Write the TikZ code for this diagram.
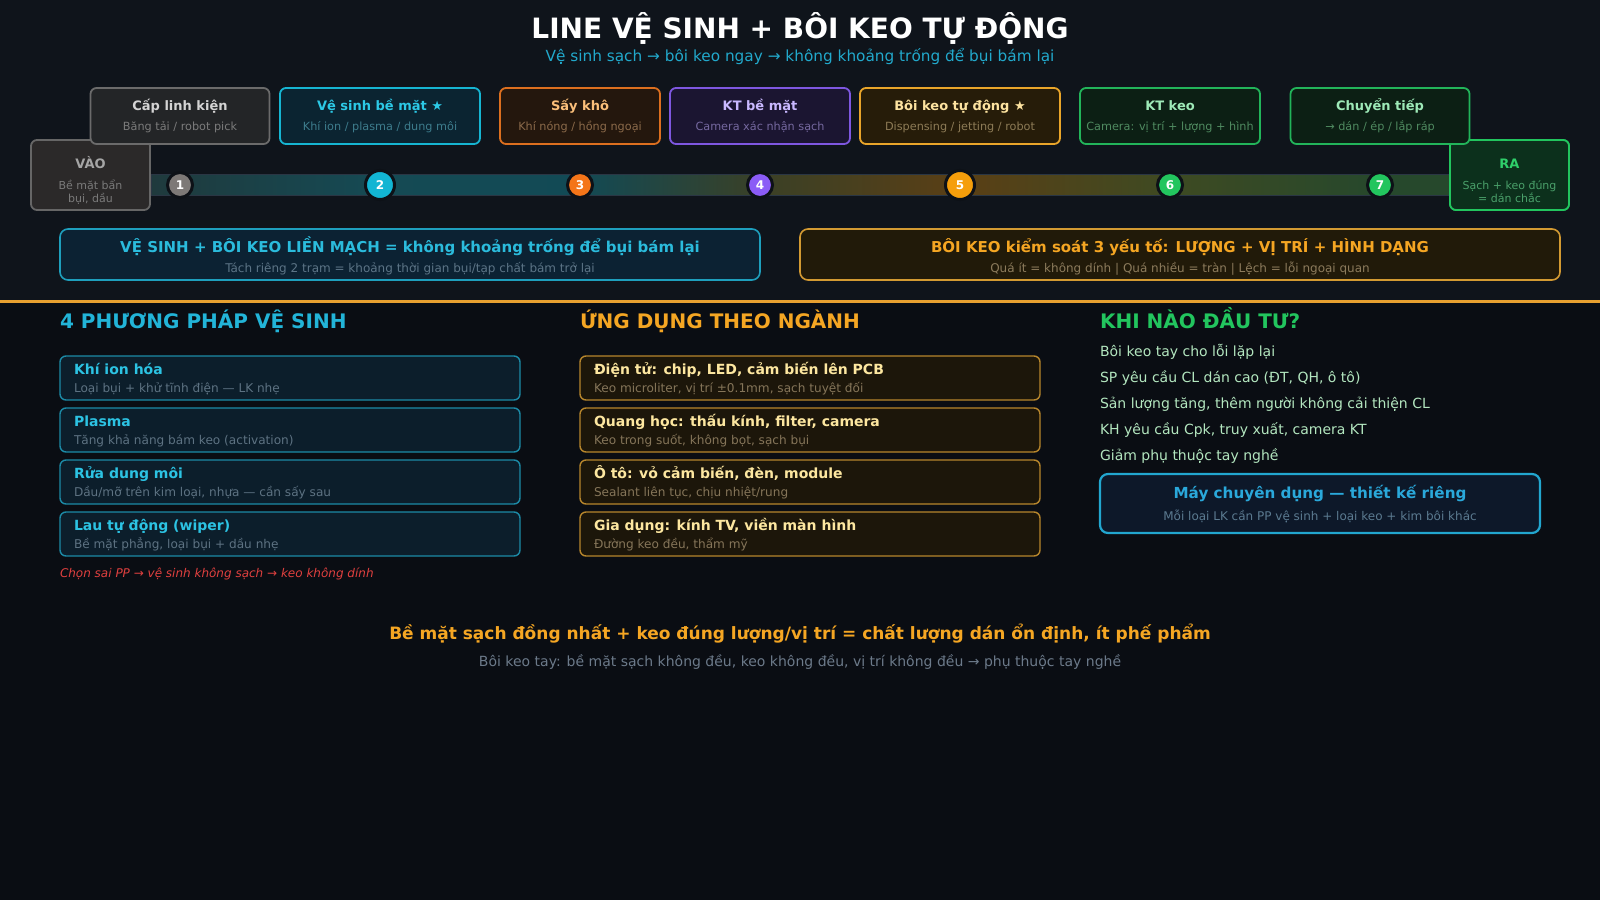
\documentclass[tikz,border=0pt]{standalone}
\usepackage{fontspec}
\setmainfont{DejaVu Sans}
\usetikzlibrary{calc}
\definecolor{bgtop}{HTML}{0F141B}
\definecolor{bgbot}{HTML}{0A0D13}
\definecolor{sep}{HTML}{E8A030}
\definecolor{ring}{HTML}{0D1117}
\definecolor{trackedge}{HTML}{2A3644}
\definecolor{tk0}{HTML}{1F3A3D}
\definecolor{tk2}{HTML}{154A54}
\definecolor{tk3}{HTML}{124A55}
\definecolor{tk4}{HTML}{3A4026}
\definecolor{tk5}{HTML}{5A3F15}
\definecolor{tk6}{HTML}{3E4A22}
\definecolor{tk7}{HTML}{26482C}
\pgfdeclarehorizontalshading{trackshade}{100bp}{color(0bp)=(tk0); color(25bp)=(tk0); color(33.8bp)=(tk2); color(41.5bp)=(tk3); color(48.5bp)=(tk4); color(56.2bp)=(tk5); color(64.2bp)=(tk6); color(72.3bp)=(tk7); color(75bp)=(tk7); color(100bp)=(tk7)}
% stage colours
\definecolor{aF}{HTML}{232527}\definecolor{aD}{HTML}{6B6B6B}\definecolor{aT}{HTML}{D4D4D4}\definecolor{aS}{HTML}{7B7B7B}
\definecolor{bF}{HTML}{0B2431}\definecolor{bD}{HTML}{16B5D2}\definecolor{bT}{HTML}{2CC9E6}\definecolor{bS}{HTML}{3D7C8C}
\definecolor{cF}{HTML}{24170D}\definecolor{cD}{HTML}{DC6F1F}\definecolor{cT}{HTML}{FBBF7A}\definecolor{cS}{HTML}{8B6A4A}
\definecolor{dF}{HTML}{1B1531}\definecolor{dD}{HTML}{7E57E0}\definecolor{dT}{HTML}{C9B8FF}\definecolor{dS}{HTML}{75689F}
\definecolor{eF}{HTML}{261C09}\definecolor{eD}{HTML}{E9A52A}\definecolor{eT}{HTML}{FDE3A0}\definecolor{eS}{HTML}{8D7B56}
\definecolor{gF}{HTML}{0C1F14}\definecolor{gD}{HTML}{22B45A}\definecolor{gT}{HTML}{9EEAB8}\definecolor{gS}{HTML}{4F8A60}
\definecolor{vF}{HTML}{2B2929}\definecolor{vD}{HTML}{666666}\definecolor{vT}{HTML}{A5A5A5}\definecolor{vS}{HTML}{7A7A7A}
\definecolor{rF}{HTML}{0C301C}\definecolor{rD}{HTML}{22C55E}\definecolor{rT}{HTML}{2FCF6A}\definecolor{rS}{HTML}{4AA06A}
\definecolor{n1}{HTML}{7D7977}\definecolor{n2}{HTML}{12B5D3}\definecolor{n3}{HTML}{F47519}\definecolor{n4}{HTML}{8B5CF6}
\definecolor{n5}{HTML}{F59E0B}\definecolor{n6}{HTML}{22C55E}
% banners and columns
\definecolor{lbF}{HTML}{0C2233}\definecolor{lbD}{HTML}{1E9FBD}\definecolor{lbT}{HTML}{2BBBDC}\definecolor{lbS}{HTML}{5C7486}
\definecolor{rbF}{HTML}{211A09}\definecolor{rbD}{HTML}{D39A32}\definecolor{rbT}{HTML}{F5A623}\definecolor{rbS}{HTML}{8C7B5C}
\definecolor{cyanH}{HTML}{22B4D8}\definecolor{amberH}{HTML}{F5A623}\definecolor{greenH}{HTML}{22C55E}
\definecolor{k1F}{HTML}{0C1E2B}\definecolor{k1D}{HTML}{1C8AA6}\definecolor{k1T}{HTML}{2CC3E3}\definecolor{k1S}{HTML}{5D7282}
\definecolor{k2F}{HTML}{1C160A}\definecolor{k2D}{HTML}{B7862C}\definecolor{k2T}{HTML}{FDE7A0}\definecolor{k2S}{HTML}{857559}
\definecolor{k3I}{HTML}{B3E6BF}
\definecolor{mbF}{HTML}{0D1829}\definecolor{mbD}{HTML}{22A6CF}\definecolor{mbT}{HTML}{2AA8DA}\definecolor{mbS}{HTML}{5B7A90}
\definecolor{redN}{HTML}{E0403F}
\definecolor{subT}{HTML}{22A9CC}
\definecolor{footS}{HTML}{6C7A8A}
\newcommand\fs[1]{\fontsize{#1}{#1}\selectfont}
\newcommand\stage[9]{%
  \node[stagebox, minimum width=#3pt, fill=#4, draw=#5] (#1) at (#2,116) {};
  \node[anchor=base, text=#6, font=\bfseries\fs{13}] (#1-t) at (#2,110.5) {#8};
  \node[anchor=base, text=#7, font=\fs{11.25}] (#1-s) at (#2,130) {#9};
}
\newcommand\colbox[6]{%
  \node[#4box, anchor=north west] (#1) at (#2,#3) {};
  \node[#4title, anchor=base west] (#1-t) at (#2+14,#3+18) {#5};
  \node[#4sub, anchor=base west] (#1-s) at (#2+14,#3+36) {#6};
}
\tikzset{
  every node/.style={inner sep=0pt, outer sep=0pt},
  stagebox/.style={rectangle, rounded corners=6pt, line width=1.8pt, minimum height=56pt},
  endbox/.style={rectangle, rounded corners=6pt, line width=1.8pt, minimum width=119pt, minimum height=70pt},
  num/.style={circle, line width=3pt, draw=ring, text=white, font=\bfseries\fs{12}, minimum size=25pt},
  bignum/.style={num, minimum size=29pt},
  banner/.style={rectangle, rounded corners=8pt, line width=1.6pt, minimum height=51pt},
  k1box/.style={rectangle, rounded corners=6pt, line width=1.4pt, minimum width=460pt, minimum height=44pt, fill=k1F, draw=k1D},
  k1title/.style={text=k1T, font=\bfseries\fs{14}},
  k1sub/.style={text=k1S, font=\fs{12.1}},
  k2box/.style={rectangle, rounded corners=6pt, line width=1.4pt, minimum width=460pt, minimum height=44pt, fill=k2F, draw=k2D},
  k2title/.style={text=k2T, font=\bfseries\fs{14}},
  k2sub/.style={text=k2S, font=\fs{12.1}},
  colhead/.style={anchor=base west, font=\bfseries\fs{20}},
  why/.style={anchor=base west, text=k3I, font=\fs{14}},
}
\begin{document}
\begin{tikzpicture}[x=1pt,y=-1pt]
\useasboundingbox (0,0) rectangle (1600,900);
\fill[bgbot] (0,0) rectangle (1600,900);
\fill[bgtop] (0,0) rectangle (1600,300);
% title
\node[anchor=base, text=white, font=\bfseries\fs{28}] (title) at (800,38) {LINE VỆ SINH + BÔI KEO TỰ ĐỘNG};
\node[anchor=base, text=subT, font=\fs{15.3}] (subtitle) at (800,61) {Vệ sinh sạch → bôi keo ngay → không khoảng trống để bụi bám lại};
% end boxes
\node[endbox, fill=vF, draw=vD] (vao) at (90.5,175) {};
\node[anchor=base, text=vT, font=\bfseries\fs{13}] (vao-t) at (90.5,168) {VÀO};
\node[anchor=base, text=vS, font=\fs{11}] (vao-s1) at (90.5,189) {Bề mặt bẩn};
\node[anchor=base, text=vS, font=\fs{11}] (vao-s2) at (90.5,202) {bụi, dầu};
\node[endbox, fill=rF, draw=rD] (ra) at (1509.5,175) {};
% track
\shadedraw[shading=trackshade, draw=trackedge, line width=0.8pt] ($(vao.east)+(1,-0.5)$) rectangle ($(ra.west)+(-1,20.5)$);
\node[endbox, fill=rF, draw=rD] (ra2) at (1509.5,175) {};
\node[anchor=base, text=rT, font=\bfseries\fs{13}] (ra-t) at (1509.5,168) {RA};
\node[anchor=base, text=rS, font=\fs{11}] (ra-s1) at (1509.5,189) {Sạch + keo đúng};
\node[anchor=base, text=rS, font=\fs{11}] (ra-s2) at (1509.5,202) {= dán chắc};
% stages
\stage{s1}{180}{179}{aF}{aD}{aT}{aS}{Cấp linh kiện}{Băng tải / robot pick}
\stage{s2}{380}{200}{bF}{bD}{bT}{bS}{Vệ sinh bề mặt ★}{Khí ion / plasma / dung môi}
\stage{s3}{580}{160}{cF}{cD}{cT}{cS}{Sấy khô}{Khí nóng / hồng ngoại}
\stage{s4}{760}{180}{dF}{dD}{dT}{dS}{KT bề mặt}{Camera xác nhận sạch}
\stage{s5}{960}{200}{eF}{eD}{eT}{eS}{Bôi keo tự động ★}{Dispensing / jetting / robot}
\stage{s6}{1170}{180}{gF}{gD}{gT}{gS}{KT keo}{Camera: vị trí + lượng + hình}
\stage{s7}{1380}{179}{gF}{gD}{gT}{gS}{Chuyển tiếp}{→ dán / ép / lắp ráp}
% numbers
\node[num, fill=n1] (c1) at (180,185) {1};
\node[bignum, fill=n2] (c2) at (380,185) {2};
\node[num, fill=n3] (c3) at (580,185) {3};
\node[num, fill=n4] (c4) at (760,185) {4};
\node[bignum, fill=n5] (c5) at (960,185) {5};
\node[num, fill=n6] (c6) at (1170,185) {6};
\node[num, fill=n6] (c7) at (1380,185) {7};
% banners
\node[banner, minimum width=700pt, fill=lbF, draw=lbD] (bl) at (410,254.5) {};
\node[anchor=base, text=lbT, font=\bfseries\fs{15}] (bl-t) at (410,252) {VỆ SINH + BÔI KEO LIỀN MẠCH = không khoảng trống để bụi bám lại};
\node[anchor=base, text=lbS, font=\fs{12}] (bl-s) at (410,272) {Tách riêng 2 trạm = khoảng thời gian bụi/tạp chất bám trở lại};
\node[banner, minimum width=760pt, fill=rbF, draw=rbD] (br) at (1180,254.5) {};
\node[anchor=base, text=rbT, font=\bfseries\fs{15}] (br-t) at (1180,252) {BÔI KEO kiểm soát 3 yếu tố: LƯỢNG + VỊ TRÍ + HÌNH DẠNG};
\node[anchor=base, text=rbS, font=\fs{12}] (br-s) at (1180,272) {Quá ít = không dính | Quá nhiều = tràn | Lệch = lỗi ngoại quan};
% separator
\coordinate (sepL) at (0,301);
\coordinate (sepR) at (1600,301);
\draw[sep, line width=3pt] (sepL) -- (sepR);
% column 1
\node[colhead, text=cyanH] (h1) at (60,328) {4 PHƯƠNG PHÁP VỆ SINH};
\colbox{m1}{60}{356}{k1}{Khí ion hóa}{Loại bụi + khử tĩnh điện — LK nhẹ}
\colbox{m2}{60}{408}{k1}{Plasma}{Tăng khả năng bám keo (activation)}
\colbox{m3}{60}{460}{k1}{Rửa dung môi}{Dầu/mỡ trên kim loại, nhựa — cần sấy sau}
\colbox{m4}{60}{512}{k1}{Lau tự động (wiper)}{Bề mặt phẳng, loại bụi + dầu nhẹ}
\node[anchor=base west, text=redN, font=\itshape\fs{12}] (warn) at (60,577) {Chọn sai PP → vệ sinh không sạch → keo không dính};
% column 2
\node[colhead, text=amberH] (h2) at (580,328) {ỨNG DỤNG THEO NGÀNH};
\colbox{a1}{580}{356}{k2}{Điện tử: chip, LED, cảm biến lên PCB}{Keo microliter, vị trí ±0.1mm, sạch tuyệt đối}
\colbox{a2}{580}{408}{k2}{Quang học: thấu kính, filter, camera}{Keo trong suốt, không bọt, sạch bụi}
\colbox{a3}{580}{460}{k2}{Ô tô: vỏ cảm biến, đèn, module}{Sealant liên tục, chịu nhiệt/rung}
\colbox{a4}{580}{512}{k2}{Gia dụng: kính TV, viền màn hình}{Đường keo đều, thẩm mỹ}
% column 3
\node[colhead, text=greenH] (h3) at (1100,328) {KHI NÀO ĐẦU TƯ?};
\node[why] (w1) at (1100,356) {Bôi keo tay cho lỗi lặp lại};
\node[why] (w2) at (1100,382) {SP yêu cầu CL dán cao (ĐT, QH, ô tô)};
\node[why] (w3) at (1100,408) {Sản lượng tăng, thêm người không cải thiện CL};
\node[why] (w4) at (1100,434) {KH yêu cầu Cpk, truy xuất, camera KT};
\node[why] (w5) at (1100,460) {Giảm phụ thuộc tay nghề};
\node[rectangle, rounded corners=8pt, line width=2.2pt, minimum width=440pt, minimum height=59pt, fill=mbF, draw=mbD] (mb) at (1320,503.5) {};
\node[anchor=base, text=mbT, font=\bfseries\fs{15.2}] (mb-t) at (1320,498) {Máy chuyên dụng — thiết kế riêng};
\node[anchor=base, text=mbS, font=\fs{12}] (mb-s) at (1320,520) {Mỗi loại LK cần PP vệ sinh + loại keo + kim bôi khác};
% footer
\node[anchor=base, text=amberH, font=\bfseries\fs{17}] (foot) at (800,639) {Bề mặt sạch đồng nhất + keo đúng lượng/vị trí = chất lượng dán ổn định, ít phế phẩm};
\node[anchor=base, text=footS, font=\fs{14}] (foot-s) at (800,666) {Bôi keo tay: bề mặt sạch không đều, keo không đều, vị trí không đều → phụ thuộc tay nghề};
\end{tikzpicture}
\end{document}
